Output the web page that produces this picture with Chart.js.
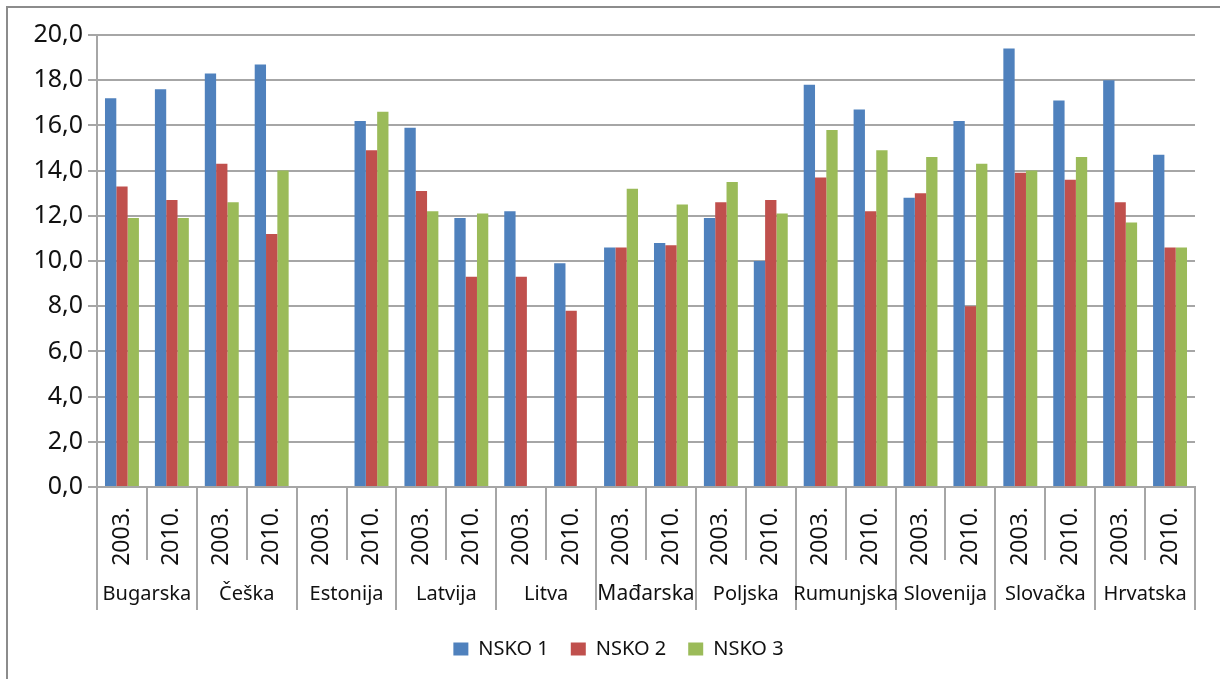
<!DOCTYPE html>
<html>
<head>
<meta charset="utf-8">
<script src="https://cdn.jsdelivr.net/npm/chart.js@4"></script>
<style>
  body { margin: 0; background: #fff; }
  #chart { display: block; }
</style>
</head>
<body>
<canvas id="chart" width="1220" height="679"></canvas>
<script>
var countries = ['Bugarska', 'Češka', 'Estonija', 'Latvija', 'Litva', 'Mađarska', 'Poljska', 'Rumunjska', 'Slovenija', 'Slovačka', 'Hrvatska'];
var years = ['2003.', '2010.'];
var seriesNames = ['NSKO 1', 'NSKO 2', 'NSKO 3'];
var yMin = 0, yMax = 20, yStep = 2;

// two values per country: 2003. then 2010.
var nsko1 = [17.2, 17.6, 18.3, 18.7, null, 16.2, 15.9, 11.9, 12.2, 9.9, 10.6, 10.8, 11.9, 10.0, 17.8, 16.7, 12.8, 16.2, 19.4, 17.1, 18.0, 14.7];
var nsko2 = [13.3, 12.7, 14.3, 11.2, null, 14.9, 13.1, 9.3, 9.3, 7.8, 10.6, 10.7, 12.6, 12.7, 13.7, 12.2, 13.0, 8.0, 13.9, 13.6, 12.6, 10.6];
var nsko3 = [11.9, 11.9, 12.6, 14.0, null, 16.6, 12.2, 12.1, null, null, 13.2, 12.5, 13.5, 12.1, 15.8, 14.9, 14.6, 14.3, 14.0, 14.6, 11.7, 10.6];

var colors = ['#4f81bd', '#c0504d', '#9bbb59'];
var fontFam = '"Noto Sans", sans-serif';
var lineCol = '#a6a6a6';
var textCol = '#111';

var labels = [];
countries.forEach(function (c) {
    years.forEach(function (y) { labels.push(y); });
});

// country names under the years + longer separators + outer frame
var groupPlugin = {
    id: 'groups',
    afterLayout: function (chart) {
        // legend sits a bit right of centre in the original
        chart.legend.left += 17;
        chart.legend.right += 17;
    },
    beforeDraw: function (chart) {
        var ctx = chart.ctx;
        ctx.save();
        ctx.strokeStyle = '#8c8c8c';
        ctx.lineWidth = 2;
        ctx.strokeRect(7, 7, 1240, 700);
        ctx.restore();
    },
    afterDraw: function (chart) {
        var ctx = chart.ctx;
        var x = chart.scales.x;
        var top = x.top + 73;
        ctx.save();
        ctx.strokeStyle = lineCol;
        ctx.lineWidth = 2;
        for (var i = 0; i <= countries.length; i++) {
            var px = Math.round(x.getPixelForValue(i * 2 - 0.5));
            ctx.beginPath();
            ctx.moveTo(px, top - 2);
            ctx.lineTo(px, 610);
            ctx.stroke();
        }
        ctx.fillStyle = textCol;
        ctx.textAlign = 'center';
        ctx.textBaseline = 'middle';
        for (var j = 0; j < countries.length; j++) {
            var cx = x.getPixelForValue(j * 2 + 0.5);
            ctx.font = (countries[j] == 'Mađarska' ? '21px ' : '20px ') + fontFam;
            ctx.fillText(countries[j], cx, 594);
        }
        ctx.restore();
    }
};

const chart = new Chart(document.getElementById('chart').getContext('2d'), {
    type: 'bar',
    data: {
        labels: labels,
        datasets: [
            { label: seriesNames[0], data: nsko1, backgroundColor: colors[0], borderWidth: 0 },
            { label: seriesNames[1], data: nsko2, backgroundColor: colors[1], borderWidth: 0 },
            { label: seriesNames[2], data: nsko3, backgroundColor: colors[2], borderWidth: 0 }
        ]
    },
    options: {
        responsive: false,
        animation: false,
        datasets: { bar: { categoryPercentage: 0.68, barPercentage: 1 } },
        layout: { padding: { left: 8, right: 25, top: 35, bottom: 10 } },
        plugins: {
            legend: {
                position: 'bottom',
                labels: { boxWidth: 15, boxHeight: 13, padding: 22, color: textCol, font: { family: fontFam, size: 20 } }
            },
            tooltip: { enabled: false }
        },
        scales: {
            x: {
                grid: { offset: true, drawOnChartArea: false, drawTicks: true, tickLength: 73, color: lineCol, lineWidth: 2 },
                border: { color: lineCol, width: 2 },
                ticks: { autoSkip: false, minRotation: 90, maxRotation: 90, padding: -53, color: textCol, font: { family: fontFam, size: 23 } },
                afterFit: function (s) { s.height = 130; }
            },
            y: {
                min: yMin,
                max: yMax,
                grid: { color: lineCol, lineWidth: 2, tickLength: 9 },
                border: { color: lineCol, width: 2 },
                ticks: {
                    stepSize: yStep,
                    padding: 5,
                    color: textCol,
                    font: { family: fontFam, size: 25 },
                    callback: function (v) { return v.toFixed(1).replace('.', ','); }
                },
                afterFit: function (s) { s.width = 89; }
            }
        }
    },
    plugins: [groupPlugin]
});
</script>
</body>
</html>
